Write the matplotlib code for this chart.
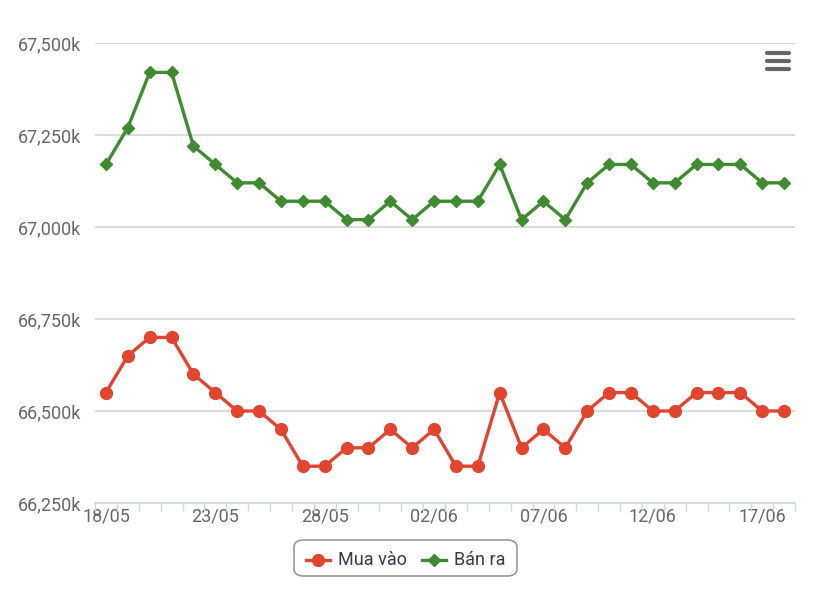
import matplotlib.pyplot as plt
from matplotlib.ticker import FuncFormatter, FixedLocator
from matplotlib.lines import Line2D
from matplotlib.patches import FancyBboxPatch

plt.rcParams['font.family'] = ['Roboto', 'DejaVu Sans']

days = ['18/05', '19/05', '20/05', '21/05', '22/05', '23/05', '24/05', '25/05',
        '26/05', '27/05', '28/05', '29/05', '30/05', '31/05', '01/06', '02/06',
        '03/06', '04/06', '05/06', '06/06', '07/06', '08/06', '09/06', '10/06',
        '11/06', '12/06', '13/06', '14/06', '15/06', '16/06', '17/06', '18/06']

mua_vao = [66550, 66650, 66700, 66700, 66600, 66550, 66500, 66500,
           66450, 66350, 66350, 66400, 66400, 66450, 66400, 66450,
           66350, 66350, 66550, 66400, 66450, 66400, 66500, 66550,
           66550, 66500, 66500, 66550, 66550, 66550, 66500, 66500]

ban_ra = [67170, 67270, 67420, 67420, 67220, 67170, 67120, 67120,
          67070, 67070, 67070, 67020, 67020, 67070, 67020, 67070,
          67070, 67070, 67170, 67020, 67070, 67020, 67120, 67170,
          67170, 67120, 67120, 67170, 67170, 67170, 67120, 67120]

red = '#e2452f'
green = '#3f8b30'

fig = plt.figure(figsize=(8.34, 5.89), dpi=100)
ax = fig.add_axes([95 / 834, 86 / 589, 700 / 834, 460 / 589])

x = list(range(len(days)))
ax.plot(x, mua_vao, color=red, lw=2.4, marker='o', ms=8.5, label='Mua vào')
ax.plot(x, ban_ra, color=green, lw=2.4, marker='D', ms=6.5, label='Bán ra')

ax.set_xlim(-0.5, len(days) - 0.5)
ax.set_ylim(66250, 67500)
ax.set_yticks([66250, 66500, 66750, 67000, 67250, 67500])
ax.yaxis.set_major_formatter(FuncFormatter(lambda v, p: '{:,.0f}k'.format(v)))
ax.grid(axis='y', color='#d4d4d4', lw=1.2)
ax.set_axisbelow(True)

ax.set_xticks(range(0, len(days), 5))
ax.set_xticklabels(days[::5])
ax.xaxis.set_minor_locator(FixedLocator([i - 0.5 for i in range(len(days) + 1)]))
ax.tick_params(axis='x', which='major', length=0, pad=3, labelsize=13, labelcolor='#666666')
ax.tick_params(axis='x', which='minor', length=6, width=1, color='#ccd6eb')
ax.tick_params(axis='y', length=0, pad=10, labelsize=13, labelcolor='#666666')

for s in ['top', 'right', 'left']:
    ax.spines[s].set_visible(False)
ax.spines['bottom'].set_color('#ccd6eb')
ax.spines['bottom'].set_linewidth(1.2)

# legend
box = FancyBboxPatch((294 / 834, (589 - 576) / 589), 223 / 834, 36 / 589,
                     boxstyle='round,pad=0,rounding_size=0.012',
                     transform=fig.transFigure, fc='white', ec='#999999', lw=1.2)
fig.patches.append(box)
legend_y = (589 - 560) / 589
fig.add_artist(Line2D([306 / 834, 330 / 834], [legend_y, legend_y], color=red, lw=2.4,
                      transform=fig.transFigure))
fig.add_artist(Line2D([318 / 834], [legend_y], color=red, lw=0, marker='o', ms=8.5,
                      transform=fig.transFigure))
fig.text(338 / 834, legend_y, 'Mua vào', fontsize=13, color='#333d4a', va='center', ha='left')
fig.add_artist(Line2D([422 / 834, 446 / 834], [legend_y, legend_y], color=green, lw=2.4,
                      transform=fig.transFigure))
fig.add_artist(Line2D([434 / 834], [legend_y], color=green, lw=0, marker='D', ms=6.5,
                      transform=fig.transFigure))
fig.text(454 / 834, legend_y, 'Bán ra', fontsize=13, color='#333d4a', va='center', ha='left')

# menu icon
for yy in [53, 61, 69]:
    fig.add_artist(Line2D([767 / 834, 789 / 834], [(589 - yy) / 589] * 2, color='#666666',
                          lw=3, solid_capstyle='round', transform=fig.transFigure))

fig.savefig('out.png', dpi=100)
